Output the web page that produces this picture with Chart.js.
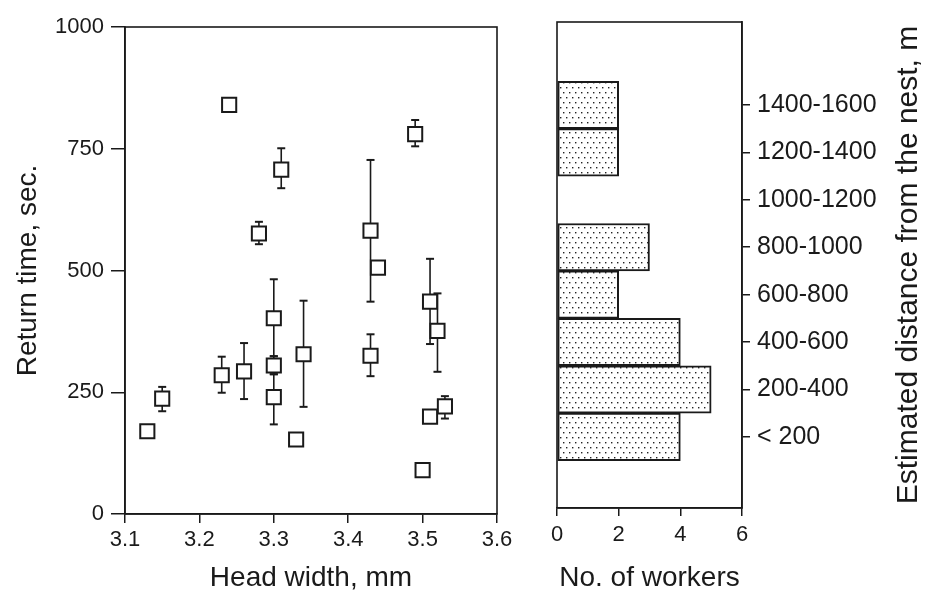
<!DOCTYPE html>
<html>
<head>
<meta charset="utf-8">
<script src="https://cdn.jsdelivr.net/npm/chart.js@4.4.1/dist/chart.umd.min.js"></script>
<style>
  html, body { margin: 0; padding: 0; background: #fff; }
  #wrap { position: relative; width: 934px; height: 596px; overflow: hidden; background: #fff; }
  #scatterBox { position: absolute; left: 0; top: 0; width: 520px; height: 596px; }
  #histBox { position: absolute; left: 520px; top: 0; width: 414px; height: 596px; }
</style>
</head>
<body>
<div id="wrap">
  <div id="scatterBox"><canvas id="scatter" width="520" height="596"></canvas></div>
  <div id="histBox"><canvas id="hist" width="414" height="596"></canvas></div>
</div>
<script>
// Worker head width (mm) against mean return time (s), with ranges
const headWidth  = [3.13, 3.15, 3.24, 3.23, 3.26, 3.30, 3.30, 3.30, 3.34, 3.33, 3.31, 3.28, 3.43, 3.44, 3.43, 3.51, 3.52, 3.51, 3.53, 3.50, 3.49];
const returnTime = [170, 237, 840, 285, 293, 402, 305, 240, 328, 153, 707, 576, 582, 506, 325, 436, 376, 200, 221, 90, 780];
const errLow     = [null, 211, null, 249, 236, 324, 287, 184, 220, null, 669, 554, 436, null, 283, 349, 292, null, 196, null, 755];
const errHigh    = [null, 261, null, 323, 351, 482, 324, 287, 438, null, 751, 600, 727, null, 369, 524, 453, null, 242, null, 809];

const headWidthTicks  = [3.1, 3.2, 3.3, 3.4, 3.5, 3.6];
const returnTimeTicks = [0, 250, 500, 750, 1000];

// Number of workers per distance class (m from the nest)
const distanceBins    = ['< 200', '200-400', '400-600', '600-800', '800-1000', '1000-1200', '1200-1400', '1400-1600'];
const distanceCentres = [100, 300, 500, 700, 900, 1100, 1300, 1500];
const workers         = [4, 5, 4, 2, 3, 0, 2, 2];
const workerTicks     = [0, 2, 4, 6];

const INK = '#1a1a1a';
const FAMILY = '"Liberation Sans", Arial, Helvetica, sans-serif';

// Stippled fill for the histogram bars
function stipple() {
  const c = document.createElement('canvas');
  c.width = 6; c.height = 10;
  const g = c.getContext('2d');
  g.fillStyle = '#fff';
  g.fillRect(0, 0, 6, 10);
  g.fillStyle = '#222';
  g.fillRect(1, 2, 1.4, 1.4);
  g.fillRect(4, 7, 1.4, 1.4);
  return g.createPattern(c, 'repeat');
}

// Box round the plotting area
const framePlugin = {
  id: 'frame',
  afterDatasetsDraw(chart) {
    const { ctx, chartArea: a } = chart;
    ctx.save();
    ctx.strokeStyle = INK;
    ctx.lineWidth = 1.6;
    ctx.strokeRect(a.left, a.top, a.right - a.left, a.bottom - a.top);
    ctx.restore();
  }
};

// Right-hand axis title, read bottom to top
const sideTitlePlugin = {
  id: 'sideTitle',
  afterDraw(chart, args, opts) {
    const { ctx, chartArea: a } = chart;
    ctx.save();
    ctx.translate(opts.x, (a.top + a.bottom) / 2);
    ctx.rotate(-Math.PI / 2);
    ctx.font = opts.size + 'px ' + FAMILY;
    ctx.fillStyle = INK;
    ctx.textAlign = 'center';
    ctx.textBaseline = 'middle';
    ctx.fillText(opts.text, 0, 0);
    ctx.restore();
  }
};

const tickFont = { family: FAMILY, size: 22 };
const titleFont = { family: FAMILY, size: 28 };

const errorBarSets = headWidth.map((x, i) => errLow[i] == null ? null : {
  data: [{ x: x, y: errLow[i] }, { x: x, y: errHigh[i] }],
  showLine: true,
  borderColor: INK,
  borderWidth: 1.6,
  pointStyle: 'line',
  pointRadius: 4,
  pointBorderWidth: 2,
  pointBorderColor: INK,
  order: 1
}).filter(Boolean);

new Chart(document.getElementById('scatter'), {
  type: 'scatter',
  data: {
    datasets: [
      ...errorBarSets,
      {
        data: headWidth.map((x, i) => ({ x: x, y: returnTime[i] })),
        pointStyle: 'rect',
        pointRadius: 10,
        pointBorderWidth: 2,
        pointBackgroundColor: '#fff',
        pointBorderColor: INK,
        order: 0
      }
    ]
  },
  options: {
    responsive: false,
    animation: false,
    events: [],
    layout: { padding: { left: 0, top: 27, right: 23, bottom: 0 } },
    plugins: { legend: { display: false }, tooltip: { enabled: false } },
    scales: {
      x: {
        type: 'linear', min: 3.1, max: 3.6,
        afterBuildTicks: s => { s.ticks = headWidthTicks.map(v => ({ value: v })); },
        ticks: { callback: v => Number(v).toFixed(1), font: tickFont, color: INK, padding: 4, autoSkip: false, maxRotation: 0 },
        grid: { drawOnChartArea: false, color: INK, lineWidth: 1.5, tickLength: 9 },
        border: { color: INK, width: 1.6 },
        title: { display: true, text: 'Head width, mm', font: titleFont, color: INK, padding: { top: 0, bottom: 1 } },
        afterFit: s => { s.height = 82; }
      },
      y: {
        type: 'linear', min: 0, max: 1000,
        afterBuildTicks: s => { s.ticks = returnTimeTicks.map(v => ({ value: v })); },
        ticks: { callback: v => String(v), font: tickFont, color: INK, padding: 7, autoSkip: false },
        grid: { drawOnChartArea: false, color: INK, lineWidth: 1.5, tickLength: 14 },
        border: { color: INK, width: 1.6 },
        title: { display: true, text: 'Return time, sec.', font: titleFont, color: INK, padding: { top: 11, bottom: 0 } },
        afterFit: s => { s.width = 125; }
      }
    }
  },
  plugins: [framePlugin]
});

new Chart(document.getElementById('hist'), {
  type: 'bar',
  data: {
    datasets: [{
      data: distanceCentres.map((c, i) => ({ x: workers[i], y: c })),
      backgroundColor: stipple(),
      borderColor: INK,
      borderWidth: 2,
      borderSkipped: false,
      barPercentage: 1,
      categoryPercentage: 1
    }]
  },
  options: {
    indexAxis: 'y',
    responsive: false,
    animation: false,
    events: [],
    layout: { padding: { left: 37, top: 22, right: 0, bottom: 0 } },
    plugins: {
      legend: { display: false },
      tooltip: { enabled: false },
      sideTitle: { text: 'Estimated distance from the nest, m', x: 389, size: 30 }
    },
    scales: {
      x: {
        type: 'linear', min: 0, max: 6,
        afterBuildTicks: s => { s.ticks = workerTicks.map(v => ({ value: v })); },
        ticks: { font: tickFont, color: INK, padding: 6, autoSkip: false, maxRotation: 0 },
        grid: { drawOnChartArea: false, color: INK, lineWidth: 1.5, tickLength: 8 },
        border: { color: INK, width: 1.6 },
        title: { display: true, text: 'No. of workers', font: titleFont, color: INK, padding: { top: 0, bottom: 1 } },
        afterFit: s => { s.height = 88; }
      },
      y: {
        type: 'linear', position: 'right', min: -200, max: 1850,
        offset: false,
        afterBuildTicks: s => { s.ticks = distanceCentres.map(v => ({ value: v })); },
        ticks: { callback: (v, i) => distanceBins[i], font: { family: FAMILY, size: 25 }, color: INK, padding: 7, autoSkip: false },
        grid: { offset: false, drawOnChartArea: false, color: INK, lineWidth: 1.5, tickLength: 8 },
        border: { color: INK, width: 1.6 },
        afterFit: s => { s.width = 192; }
      }
    }
  },
  plugins: [framePlugin, sideTitlePlugin]
});
</script>
</body>
</html>
